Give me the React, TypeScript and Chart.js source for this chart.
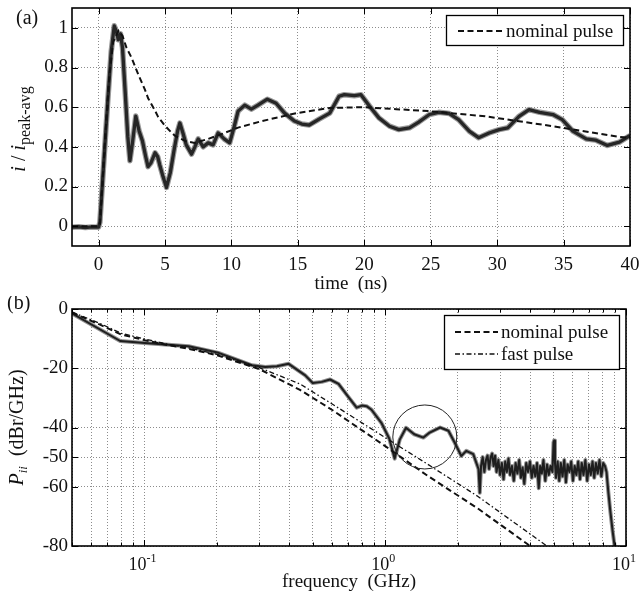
import React, { useEffect, useRef } from "react";
import { Chart, registerables } from "chart.js";

Chart.register(...registerables);

const SERIF = '"Liberation Serif", "Times New Roman", "DejaVu Serif", serif';

// ---------- Panel (a): normalized current vs time ----------
const timeMeasured = [
  -2, -1.5, -1, -0.5, 0, 0.1, 0.4, 0.7, 0.95, 1.18,
  1.35, 1.48, 1.65, 1.8, 2.0, 2.2, 2.36, 2.55, 2.8, 3.05,
  3.3, 3.55, 3.72, 3.95, 4.25, 4.45, 4.6, 4.85, 5.11, 5.4,
  5.7, 5.95, 6.12, 6.35, 6.6, 7.0, 7.25, 7.5, 7.87, 8.25,
  8.62, 9.0, 9.45, 9.87, 10.2, 10.5, 11.0, 11.5, 12.0, 12.7,
  13.36, 14.0, 14.74, 15.3, 15.86, 16.6, 17.4, 18.1, 18.5, 19.25,
  19.75, 20.4, 21.1, 21.9, 22.6, 23.4, 24.1, 24.9, 25.6, 26.4,
  27.1, 27.9, 28.6, 29.4, 30.15, 30.8, 31.65, 32.4, 33.2, 34.2,
  34.9, 35.7, 36.7, 37.4, 38.3, 39.2, 40,
];
const currentMeasured = [
  -0.005, -0.003, -0.007, -0.004, -0.005, 0.02, 0.33, 0.64, 0.88, 1.01,
  0.98, 0.94, 0.97, 0.9, 0.68, 0.45, 0.33, 0.42, 0.555, 0.48,
  0.43, 0.35, 0.3, 0.32, 0.37, 0.35, 0.31, 0.25, 0.195, 0.27,
  0.39, 0.48, 0.52, 0.47, 0.41, 0.363, 0.4, 0.44, 0.4, 0.42,
  0.41, 0.47, 0.44, 0.42, 0.5, 0.58, 0.61, 0.59, 0.61, 0.64,
  0.62, 0.57, 0.53, 0.515, 0.51, 0.54, 0.57, 0.655, 0.663, 0.658,
  0.663, 0.605, 0.546, 0.504, 0.487, 0.496, 0.525, 0.563, 0.574, 0.568,
  0.537, 0.479, 0.446, 0.47, 0.487, 0.496, 0.554, 0.588, 0.574, 0.563,
  0.537, 0.479, 0.44, 0.434, 0.407, 0.424, 0.457,
];
const timeNominal = [
  -2, 0, 0.1, 0.5, 0.8, 1.1, 1.5, 1.8, 2.1, 2.48,
  2.98, 3.48, 3.73, 4.23, 4.49, 5.0, 5.49, 5.74, 6.5, 7.24,
  8.25, 9.25, 10.5, 12.3, 14.9, 17.4, 19.9, 22.4, 24.9, 29.1,
  34.2, 39.2, 40,
];
const currentNominal = [
  0, 0, 0.01, 0.45, 0.75, 0.93, 0.985, 0.96, 0.9, 0.85,
  0.766, 0.69, 0.645, 0.585, 0.55, 0.506, 0.472, 0.456, 0.43, 0.42,
  0.44, 0.464, 0.497, 0.53, 0.57, 0.596, 0.6, 0.59, 0.58, 0.554,
  0.504, 0.45, 0.445,
];
const timeTicks = [0, 5, 10, 15, 20, 25, 30, 35, 40];
const currentTicks = [0, 0.2, 0.4, 0.6, 0.8, 1];

// ---------- Panel (b): power spectral density vs frequency ----------
const freqMeasured = [
  0.05, 0.0793, 0.1003, 0.1526, 0.203, 0.2795, 0.3174, 0.355, 0.397, 0.4653,
  0.5, 0.545, 0.59, 0.64, 0.7, 0.761, 0.8, 0.836, 0.877, 0.965,
  1.04, 1.094, 1.15, 1.22, 1.32, 1.44, 1.53, 1.69, 1.83, 1.94,
  2.07, 2.17, 2.32, 2.44, 2.47, 2.5, 2.54, 2.58, 2.62, 2.66,
  2.7, 2.74, 2.78, 2.82, 2.86, 2.9, 2.95, 3.0, 3.05, 3.1,
  3.15, 3.2, 3.25, 3.3, 3.36, 3.42, 3.48, 3.54, 3.6, 3.66,
  3.72, 3.78, 3.85, 3.92, 3.99, 4.06, 4.13, 4.2, 4.27, 4.34,
  4.4, 4.47, 4.54, 4.62, 4.7, 4.78, 4.86, 4.95, 5.0, 5.03,
  5.07, 5.12, 5.2, 5.28, 5.36, 5.45, 5.54, 5.63, 5.72, 5.82,
  5.92, 6.02, 6.12, 6.22, 6.33, 6.44, 6.55, 6.66, 6.78, 6.9,
  7.02, 7.14, 7.26, 7.38, 7.5, 7.63, 7.76, 7.9, 8.04, 8.18,
  8.3, 8.45, 8.6, 8.8, 9.0, 9.2,
];
const psdMeasured = [
  -1.5, -10.8, -11.5, -12.6, -14.8, -19.0, -19.6, -19.3, -18.5, -22.4,
  -25.0, -24.6, -23.8, -25.3, -29.5, -33.3, -32.6, -32.8, -34.0, -38.5,
  -43.8, -50.5, -44.0, -40.1, -42.3, -43.4, -41.7, -40.0, -41.1, -45.0,
  -49.6, -47.9, -49.0, -54.0, -62.0, -53.0, -50.0, -55.0, -51.0, -49.5,
  -54.0, -50.0, -48.8, -53.0, -49.5, -55.0, -51.0, -56.0, -52.0, -57.5,
  -51.5, -55.0, -50.5, -56.0, -53.0, -58.0, -52.0, -55.5, -51.0, -57.0,
  -53.5, -59.0, -52.0, -55.0, -51.5, -57.0, -53.0, -56.5, -52.0, -60.5,
  -53.0, -55.5, -51.0, -58.0, -52.5, -56.0, -53.0, -55.0, -45.0, -44.4,
  -52.0, -57.0, -51.5, -58.0, -52.0, -56.5, -51.0, -58.5, -52.5, -55.0,
  -51.5, -58.0, -53.0, -56.0, -51.5, -57.5, -52.0, -56.0, -51.0, -58.0,
  -52.5, -56.0, -51.5, -57.0, -52.0, -55.5, -51.0, -56.5, -52.0, -53.0,
  -55.0, -62.0, -68.0, -75.0, -81.0, -88.0,
];
const freqNominal = [0.05, 0.065, 0.08, 0.1, 0.125, 0.15, 0.2, 0.3, 0.4425, 0.6, 1.0, 1.5, 2.42, 4.0, 5.0];
const psdNominal = [-1.2, -5.2, -8.6, -10.5, -12.2, -13.3, -15.6, -20.3, -27.3, -34.0, -46.3, -56.3, -67.3, -80.0, -85.5];
const freqFast = [0.05, 0.065, 0.08, 0.1, 0.125, 0.15, 0.2, 0.3, 0.4425, 0.6, 1.0, 1.5, 2.42, 4.69, 6.0];
const psdFast = [-1.0, -4.8, -8.2, -10.1, -11.9, -13.0, -15.3, -19.8, -25.3, -32.0, -43.4, -52.4, -63.2, -80.0, -86.0];
const freqGrid = [
  0.05, 0.06, 0.07, 0.08, 0.09, 0.1, 0.2, 0.3, 0.4, 0.5, 0.6, 0.7, 0.8, 0.9,
  1, 2, 3, 4, 5, 6, 7, 8, 9, 10,
];
const freqDecades = [0.1, 1, 10];
const freqExponents = ["-1", "0", "1"];
const psdTicks = [0, -20, -40, -50, -60, -80];
const circleCenter = { f: 1.46, p: -43.2 };

const zip = (xs: number[], ys: number[]) => xs.map((x, i) => ({ x, y: ys[i] }));

type Part = { text: string; font: string; dy?: number };
function drawRich(ctx: CanvasRenderingContext2D, parts: Part[], x: number, y: number, align: "center" | "left") {
  let w = 0;
  for (const p of parts) {
    ctx.font = p.font;
    w += ctx.measureText(p.text).width;
  }
  let cx = align === "center" ? x - w / 2 : x;
  ctx.textAlign = "left";
  ctx.textBaseline = "alphabetic";
  for (const p of parts) {
    ctx.font = p.font;
    ctx.fillText(p.text, cx, y + (p.dy || 0));
    cx += ctx.measureText(p.text).width;
  }
}

function drawFrame(chart: any, xTicks: number[], yTicks: number[], xMajor: (v: number) => boolean) {
  const { ctx, chartArea: a, scales } = chart;
  ctx.save();
  ctx.strokeStyle = "#000";
  ctx.lineWidth = 1;
  ctx.setLineDash([]);
  ctx.beginPath();
  for (const v of xTicks) {
    const px = Math.round(scales.x.getPixelForValue(v)) + 0.5;
    const len = xMajor(v) ? 6 : 3.5;
    ctx.moveTo(px, a.bottom);
    ctx.lineTo(px, a.bottom - len);
    ctx.moveTo(px, a.top);
    ctx.lineTo(px, a.top + len);
  }
  for (const v of yTicks) {
    const py = Math.round(scales.y.getPixelForValue(v)) + 0.5;
    ctx.moveTo(a.left, py);
    ctx.lineTo(a.left + 6, py);
    ctx.moveTo(a.right, py);
    ctx.lineTo(a.right - 6, py);
  }
  ctx.stroke();
  ctx.lineWidth = 1.6;
  ctx.strokeRect(a.left, a.top, a.right - a.left, a.bottom - a.top);
  ctx.restore();
}

function drawLegend(
  ctx: CanvasRenderingContext2D,
  left: number,
  top: number,
  w: number,
  h: number,
  rows: { label: string; dash: number[]; width: number; y: number }[],
  lineX0: number,
  lineX1: number,
  textX: number
) {
  ctx.save();
  ctx.fillStyle = "#fff";
  ctx.fillRect(left, top, w, h);
  ctx.strokeStyle = "#000";
  ctx.lineWidth = 1.3;
  ctx.setLineDash([]);
  ctx.strokeRect(left + 0.5, top + 0.5, w, h);
  for (const r of rows) {
    ctx.beginPath();
    ctx.setLineDash(r.dash);
    ctx.lineWidth = r.width;
    ctx.strokeStyle = "#111";
    ctx.moveTo(left + lineX0, top + r.y);
    ctx.lineTo(left + lineX1, top + r.y);
    ctx.stroke();
    ctx.setLineDash([]);
    ctx.fillStyle = "#111";
    ctx.font = `19px ${SERIF}`;
    ctx.textAlign = "left";
    ctx.textBaseline = "alphabetic";
    ctx.fillText(r.label, left + textX, top + r.y + 6);
  }
  ctx.restore();
}

const NOMINAL_DASH = [6, 3.5];
const FAST_DASH = [5, 2.5, 1.5, 2.5];

const panelAPlugin = {
  id: "panelA",
  afterDraw(chart: any) {
    const { ctx, chartArea: a } = chart;
    drawLegend(ctx, a.right - 7 - 177, a.top + 7, 177, 30,
      [{ label: "nominal pulse", dash: NOMINAL_DASH, width: 2, y: 16 }], 12, 57, 60);
    drawFrame(chart, timeTicks, currentTicks, () => true);
    ctx.save();
    ctx.fillStyle = "#111";
    drawRich(ctx, [{ text: "time  (ns)", font: `19px ${SERIF}` }], (a.left + a.right) / 2, 289, "center");
    drawRich(ctx, [{ text: "(a)", font: `20px ${SERIF}` }], 16, 24, "left");
    ctx.translate(25, (a.top + a.bottom) / 2 + 2);
    ctx.rotate(-Math.PI / 2);
    drawRich(ctx, [
      { text: "i", font: `italic 20px ${SERIF}` },
      { text: " / ", font: `20px ${SERIF}` },
      { text: "i", font: `italic 20px ${SERIF}` },
      { text: "peak-avg", font: `16px ${SERIF}`, dy: 5 },
    ], 0, 0, "center");
    ctx.restore();
  },
};

const panelBPlugin = {
  id: "panelB",
  afterDraw(chart: any) {
    const { ctx, chartArea: a, scales } = chart;
    ctx.save();
    ctx.strokeStyle = "#222";
    ctx.lineWidth = 1;
    ctx.setLineDash([]);
    ctx.beginPath();
    ctx.arc(scales.x.getPixelForValue(circleCenter.f), scales.y.getPixelForValue(circleCenter.p), 32, 0, Math.PI * 2);
    ctx.stroke();
    ctx.restore();
    drawLegend(ctx, a.right - 7 - 175, a.top + 6, 175, 54, [
      { label: "nominal pulse", dash: NOMINAL_DASH, width: 2, y: 17 },
      { label: "fast pulse", dash: FAST_DASH, width: 1.3, y: 39 },
    ], 11, 54, 57);
    drawFrame(chart, freqGrid, psdTicks, (v) => freqDecades.includes(v));
    ctx.save();
    ctx.fillStyle = "#111";
    freqDecades.forEach((v, i) => {
      const px = scales.x.getPixelForValue(v);
      const parts: Part[] = [
        { text: "10", font: `18px ${SERIF}` },
        { text: freqExponents[i], font: `12px ${SERIF}`, dy: -8 },
      ];
      drawRich(ctx, parts, px - 2, 274, "center");
    });
    drawRich(ctx, [{ text: "frequency  (GHz)", font: `19px ${SERIF}` }], (a.left + a.right) / 2, 291, "center");
    drawRich(ctx, [{ text: "(b)", font: `20px ${SERIF}` }], 7, 13, "left");
    ctx.translate(23, (a.top + a.bottom) / 2);
    ctx.rotate(-Math.PI / 2);
    drawRich(ctx, [
      { text: "P", font: `italic 20px ${SERIF}` },
      { text: "ii", font: `italic 13px ${SERIF}`, dy: 4 },
      { text: "  (dBr/GHz)", font: `20px ${SERIF}` },
    ], 0, 0, "center");
    ctx.restore();
  },
};

const gridCommon = { color: "#8c8c8c", lineWidth: 1, drawTicks: false };
const borderCommon = { display: false, dash: [1, 2] };
const tickFont = { family: SERIF, size: 19 };
const noPad = (s: any) => {
  s.paddingLeft = 0;
  s.paddingRight = 0;
  s.paddingTop = 0;
  s.paddingBottom = 0;
};

function makeChartA(canvas: HTMLCanvasElement) {
  return new Chart(canvas, {
    type: "line",
    data: {
      datasets: [
        { label: "measured-halo", data: zip(timeMeasured, currentMeasured), borderColor: "#9a9a9a", borderWidth: 5.5, borderJoinStyle: "round", order: 3 },
        { label: "measured", data: zip(timeMeasured, currentMeasured), borderColor: "#262626", borderWidth: 3.3, borderJoinStyle: "round", order: 2 },
        { label: "nominal pulse", data: zip(timeNominal, currentNominal), borderColor: "#111", borderWidth: 2, borderDash: NOMINAL_DASH, order: 1 },
      ],
    },
    options: {
      animation: false,
      responsive: false,
      devicePixelRatio: 1,
      layout: { padding: { top: 8, right: 9, left: 0, bottom: 0 } },
      elements: { point: { radius: 0 }, line: { tension: 0 } },
      plugins: { legend: { display: false }, tooltip: { enabled: false } },
      scales: {
        x: {
          type: "linear",
          min: -2,
          max: 40,
          afterBuildTicks: (s: any) => { s.ticks = timeTicks.map((v) => ({ value: v })); },
          afterFit: (s: any) => { s.height = 50; noPad(s); },
          grid: gridCommon,
          border: borderCommon,
          ticks: { font: tickFont, color: "#111", padding: 8, maxRotation: 0, autoSkip: false, callback: (v: any) => String(v) },
        },
        y: {
          type: "linear",
          min: -0.1,
          max: 1.1,
          afterBuildTicks: (s: any) => { s.ticks = currentTicks.map((v) => ({ value: v })); },
          afterFit: (s: any) => { s.width = 72; noPad(s); },
          grid: gridCommon,
          border: borderCommon,
          ticks: { font: tickFont, color: "#111", padding: 4, autoSkip: false, callback: (v: any) => String(v) },
        },
      },
    } as any,
    plugins: [panelAPlugin],
  });
}

function makeChartB(canvas: HTMLCanvasElement) {
  return new Chart(canvas, {
    type: "line",
    data: {
      datasets: [
        { label: "measured-halo", data: zip(freqMeasured, psdMeasured), borderColor: "#8f8f8f", borderWidth: 4, borderJoinStyle: "round", clip: 0, order: 4 },
        { label: "measured", data: zip(freqMeasured, psdMeasured), borderColor: "#1e1e1e", borderWidth: 2, borderJoinStyle: "round", clip: 0, order: 3 },
        { label: "nominal pulse", data: zip(freqNominal, psdNominal), borderColor: "#111", borderWidth: 2, borderDash: NOMINAL_DASH, clip: 0, order: 2 },
        { label: "fast pulse", data: zip(freqFast, psdFast), borderColor: "#111", borderWidth: 1.3, borderDash: FAST_DASH, clip: 0, order: 1 },
      ],
    },
    options: {
      animation: false,
      responsive: false,
      devicePixelRatio: 1,
      layout: { padding: { top: 13, right: 13, left: 0, bottom: 0 } },
      elements: { point: { radius: 0 }, line: { tension: 0 } },
      plugins: { legend: { display: false }, tooltip: { enabled: false } },
      scales: {
        x: {
          type: "logarithmic",
          min: 0.05,
          max: 10,
          afterBuildTicks: (s: any) => { s.ticks = freqGrid.map((v) => ({ value: v })); },
          afterFit: (s: any) => { s.height = 51; noPad(s); },
          grid: gridCommon,
          border: borderCommon,
          ticks: { display: false, autoSkip: false },
        },
        y: {
          type: "linear",
          min: -80,
          max: 0,
          afterBuildTicks: (s: any) => { s.ticks = psdTicks.map((v) => ({ value: v })); },
          afterFit: (s: any) => { s.width = 72; noPad(s); },
          grid: gridCommon,
          border: borderCommon,
          ticks: { font: tickFont, color: "#111", padding: 4, autoSkip: false, callback: (v: any) => String(v) },
        },
      },
    } as any,
    plugins: [panelBPlugin],
  });
}

export default function App() {
  const refA = useRef<HTMLCanvasElement | null>(null);
  const refB = useRef<HTMLCanvasElement | null>(null);
  useEffect(() => {
    const a = makeChartA(refA.current!);
    const b = makeChartB(refB.current!);
    return () => {
      a.destroy();
      b.destroy();
    };
  }, []);
  return (
    <div style={{ position: "absolute", left: 0, top: 0, width: 639, height: 597, background: "#fff" }}>
      <canvas ref={refA} width={639} height={296} style={{ position: "absolute", left: 0, top: 0, display: "block" }} />
      <canvas ref={refB} width={639} height={301} style={{ position: "absolute", left: 0, top: 296, display: "block" }} />
    </div>
  );
}
